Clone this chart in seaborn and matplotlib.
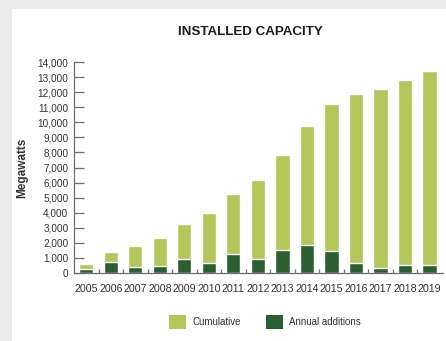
import matplotlib
matplotlib.use("Agg")
import matplotlib.pyplot as plt
from matplotlib.patches import Rectangle, Patch
from matplotlib.ticker import FixedLocator, FuncFormatter
import numpy as np
import pandas as pd
import seaborn as sns

years = ["2005", "2006", "2007", "2008", "2009", "2010", "2011", "2012",
         "2013", "2014", "2015", "2016", "2017", "2018", "2019"]
cumulative = [600, 1400, 1800, 2300, 3250, 3950, 5250, 6200,
              7800, 9750, 11200, 11900, 12200, 12800, 13400]
annual_additions = [250, 700, 400, 450, 900, 650, 1250, 900,
                    1550, 1850, 1450, 650, 300, 550, 550]
y_ticks = list(range(0, 14001, 1000))

LIGHT = "#b3c65a"
DARK = "#2b5f31"
AXIS = "#6e6e6e"
TEXT = "#333333"

sns.set_style("white")
plt.rcParams["font.family"] = ["Liberation Sans", "DejaVu Sans"]

df = pd.DataFrame({"year": years, "cumulative": cumulative,
                   "annual": annual_additions})

fig = plt.figure(figsize=(4.46, 3.41), dpi=100)
fig.patch.set_facecolor("#ebebeb")
fig.patches.append(Rectangle((12 / 446, 0), 1, 1 - 9 / 341,
                             transform=fig.transFigure, facecolor="white",
                             edgecolor="none", zorder=-5))

ax = fig.add_axes([74 / 446, 1 - 273 / 341, (443 - 74) / 446, (273 - 62) / 341])
ax.set_facecolor("none")
ax.set_zorder(2)

# cumulative total behind, annual additions in front, both from zero
sns.barplot(data=df, x="year", y="cumulative", color=LIGHT, width=0.58,
            saturation=1, ax=ax)
sns.barplot(data=df, x="year", y="annual", color=DARK, width=0.58,
            saturation=1, ax=ax)

ax.set_xlim(-0.5, 14.55)
ax.set_ylim(0, 14000)

for side in ("top", "right"):
    ax.spines[side].set_visible(False)
for side in ("left", "bottom"):
    ax.spines[side].set_color(AXIS)
    ax.spines[side].set_linewidth(0.9)

ax.yaxis.set_major_locator(FixedLocator(y_ticks))
ax.yaxis.set_major_formatter(FuncFormatter(lambda v, p: f"{int(v):,}"))
ax.tick_params(axis="y", direction="in", length=7, width=0.9, color=AXIS,
               pad=4, labelsize=7.2, labelcolor=TEXT, left=True)

ax.tick_params(axis="x", which="major", length=0, pad=8, labelsize=7.7,
               labelcolor=TEXT)
ax.xaxis.set_minor_locator(FixedLocator(np.arange(0.5, 14.5, 1.0)))
ax.tick_params(axis="x", which="minor", direction="in", length=3, width=0.9,
               color=AXIS, bottom=True)

ax.set_xlabel("")
ax.set_ylabel("")

fig.text(250 / 446, 1 - 32 / 341, "INSTALLED CAPACITY", ha="center",
         va="center", fontsize=9.6, fontweight="bold", color="#1e1e1e")
fig.text(22 / 446, 1 - 168 / 341, "Megawatts", ha="center", va="center",
         rotation=90, fontsize=8.5, fontweight="bold", color=TEXT)

handles = [Patch(facecolor=LIGHT, edgecolor="none", label="Cumulative"),
           Patch(facecolor=DARK, edgecolor="none", label="Annual additions")]
fig.legend(handles=handles, loc="center", bbox_to_anchor=(265 / 446, 1 - 322 / 341),
           ncol=2, frameon=False, fontsize=7, handlelength=1.75,
           handleheight=1.75, handletextpad=0.6, columnspacing=2.6,
           labelcolor=TEXT)

fig.savefig("out.png", dpi=100)
